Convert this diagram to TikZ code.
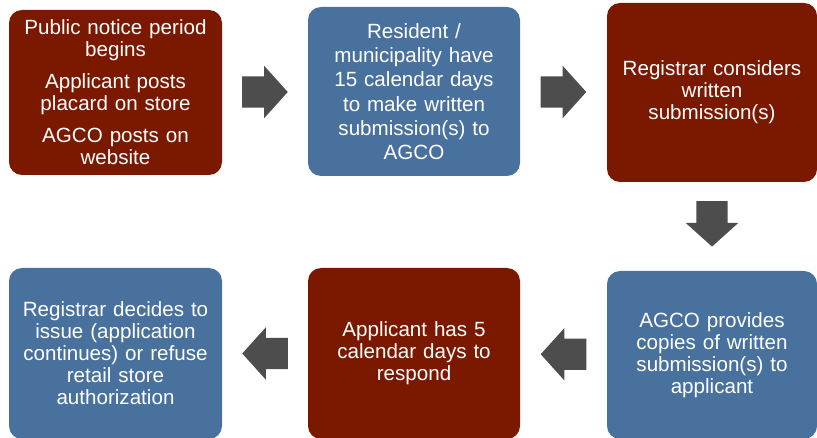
\documentclass[tikz,border=0pt]{standalone}
\usepackage{fontspec}
\setmainfont{Liberation Sans}
\usetikzlibrary{shapes.arrows,calc}
\definecolor{boxred}{RGB}{123,25,0}
\definecolor{boxblue}{RGB}{73,113,158}
\definecolor{arrowgrey}{RGB}{77,77,77}
\tikzset{
  stepbox/.style={rectangle, rounded corners=13pt, text=white, align=center,
    font=\fontsize{20.6}{22}\selectfont, inner sep=0pt, text width=200pt},
  redbox/.style={stepbox, fill=boxred},
  bluebox/.style={stepbox, fill=boxblue},
  flowarrow/.style={single arrow, fill=arrowgrey, draw=none, inner sep=15.5pt,
    minimum height=45pt, single arrow head extend=10.5pt,
    single arrow tip angle=96, anchor=tail}
}
\begin{document}
\begin{tikzpicture}[x=1pt,y=-1pt]
\useasboundingbox (0,0) rectangle (817,438);
\node[redbox, minimum width=213pt, minimum height=165pt] (b1) at (115.5,92.5)
  {Public notice period\\begins\\[10pt]Applicant posts\\placard on store\\[10pt]AGCO posts on\\website};
\node[bluebox, minimum width=212pt, minimum height=169pt, font=\fontsize{20.6}{24.3}\selectfont] (b2) at (414,91.5)
  {Resident /\\municipality have\\15 calendar days\\to make written\\submission(s) to\\AGCO};
\node[redbox, minimum width=210pt, minimum height=179pt] (b3) at (712,92.5)
  {Registrar considers\\written\\submission(s)\\[8pt]};
\node[bluebox, minimum width=210pt, minimum height=168pt] (b4) at (712,355)
  {AGCO provides\\copies of written\\submission(s) to\\applicant};
\node[redbox, minimum width=212pt, minimum height=171pt] (b5) at (414,353.5)
  {Applicant has 5\\calendar days to\\respond};
\node[bluebox, minimum width=213pt, minimum height=171pt] (b6) at (115.5,353.5)
  {Registrar decides to\\issue (application\\continues) or refuse\\retail store\\authorization};
\node[flowarrow] (a1) at ($(b1.east)!0.5!(b2.west)+(-23,0)$) {};
\node[flowarrow] (a2) at ($(b2.east)!0.5!(b3.west)+(-23,0)$) {};
\node[flowarrow, shape border rotate=270] (a3) at ($(b3.south)!0.47!(b4.north)+(0,-23)$) {};
\node[flowarrow, shape border rotate=180] (a4) at ($(b4.west)!0.5!(b5.east)+(23,0)$) {};
\node[flowarrow, shape border rotate=180] (a5) at ($(b5.west)!0.5!(b6.east)+(23,0)$) {};
\end{tikzpicture}
\end{document}
